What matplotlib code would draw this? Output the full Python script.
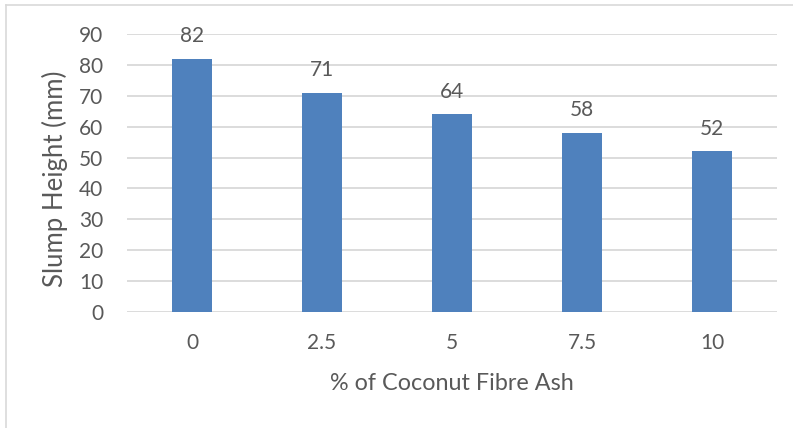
import matplotlib
matplotlib.use("Agg")
import matplotlib.pyplot as plt
from matplotlib.lines import Line2D

categories = ["0", "2.5", "5", "7.5", "10"]
slump_mm = [82, 71, 64, 58, 52]
y_ticks = [0, 10, 20, 30, 40, 50, 60, 70, 80, 90]

TEXT = "#595959"
GRID = "#D9D9D9"
BAR = "#4F81BD"
TICK_FS = 15
TITLE_FS = 16.8
YTITLE_FS = 18.5

plt.rcParams["font.family"] = ["Lato", "DejaVu Sans"]
plt.rcParams["font.size"] = TICK_FS

fig = plt.figure(figsize=(7.93, 4.28), dpi=100)
ax = fig.add_axes([127 / 793, 116 / 428, 650 / 793, 278 / 428])

x = list(range(len(categories)))
bars = ax.bar(x, slump_mm, width=0.315, color=BAR, zorder=3)

for xi, v in zip(x, slump_mm):
    ax.annotate(str(v), (xi, v), xytext=(0, 12), textcoords="offset points",
                ha="center", va="baseline", color=TEXT, fontsize=TICK_FS)

ax.set_xlim(-0.5, len(categories) - 0.5)
ax.set_ylim(0, 90)
ax.set_yticks(y_ticks)
ax.set_xticks(x)
ax.set_xticklabels(categories)
ax.grid(axis="y", color=GRID, linewidth=1.3, zorder=0)
ax.set_axisbelow(True)
for s in ax.spines.values():
    s.set_visible(False)
ax.tick_params(axis="both", length=0, colors=TEXT, labelsize=TICK_FS)
ax.tick_params(axis="y", pad=17)
ax.tick_params(axis="x", pad=15)

fig.text(452 / 793, (428 - 390) / 428, "% of Coconut Fibre Ash", ha="center",
         va="baseline", color=TEXT, fontsize=TITLE_FS)
fig.text(55 / 793, (428 - 179) / 428, "Slump Height (mm)", rotation=90,
         ha="center", va="center", color=TEXT, fontsize=YTITLE_FS)

# light chart-area frame along the top and left
top = (428 - 5) / 428
left = 6 / 793
fig.add_artist(Line2D([left, 1], [top, top], transform=fig.transFigure,
                      color=GRID, linewidth=1.2))
fig.add_artist(Line2D([left, left], [0, top], transform=fig.transFigure,
                      color=GRID, linewidth=1.2))

fig.savefig("out.png", dpi=100, facecolor="white")
